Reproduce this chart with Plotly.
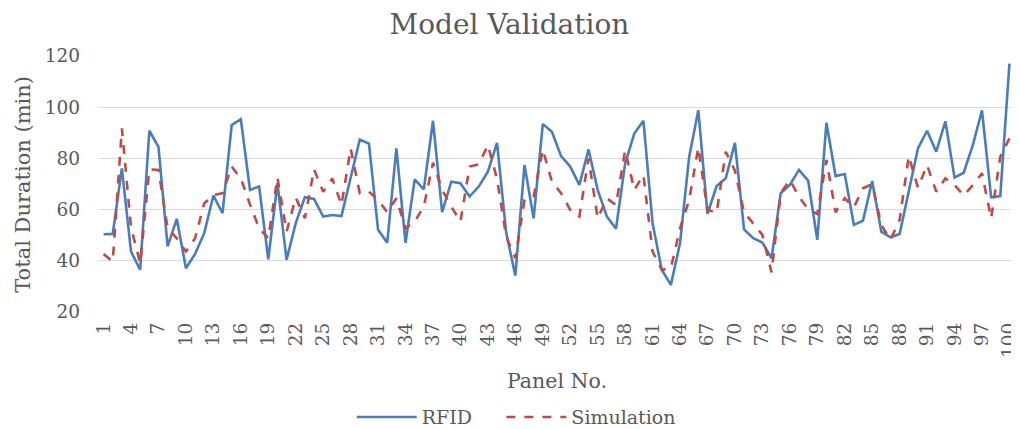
import plotly.graph_objects as go

panels = list(range(1, 101))

rfid = [50.4, 50.5, 76.1, 43.6, 36.5, 90.8, 84.5, 45.6, 56.4, 37.1,
        42.7, 50.8, 65.5, 58.6, 93.0, 95.3, 67.7, 69.0, 40.6, 70.3,
        40.4, 54.7, 64.8, 64.2, 57.3, 57.9, 57.5, 72.5, 87.4, 85.8,
        52.1, 47.1, 83.9, 47.0, 71.8, 67.9, 94.7, 59.0, 70.9, 70.3,
        65.1, 69.0, 74.8, 86.1, 51.0, 34.2, 77.4, 56.6, 93.4, 90.4,
        80.9, 76.8, 69.6, 83.5, 67.7, 57.3, 52.5, 78.0, 89.7, 94.7,
        54.7, 36.5, 30.6, 46.9, 80.6, 98.8, 58.3, 69.2, 72.2, 86.1,
        52.3, 48.8, 47.1, 41.0, 66.4, 69.6, 75.5, 71.3, 48.2, 93.9,
        73.1, 73.9, 54.0, 55.7, 71.2, 51.4, 49.2, 50.5, 67.0, 83.9,
        90.8, 82.6, 94.5, 72.5, 74.4, 85.2, 98.8, 64.8, 65.3, 117.0]

simulation = [42.7, 39.7, 91.7, 53.0, 39.1, 75.7, 75.5, 52.7, 48.8, 43.6,
              48.8, 62.5, 65.7, 66.4, 76.8, 72.2, 62.0, 52.7, 48.8, 72.5,
              51.4, 64.7, 56.6, 75.7, 67.0, 72.2, 61.8, 83.9, 66.4, 67.0,
              63.8, 59.0, 64.4, 52.7, 55.3, 61.2, 78.3, 67.7, 61.2, 55.3,
              76.8, 77.7, 85.2, 72.0, 49.5, 41.0, 63.8, 65.1, 83.5, 70.9,
              66.4, 59.9, 57.3, 80.0, 56.6, 64.4, 61.8, 83.2, 67.7, 73.5,
              43.6, 36.5, 37.1, 52.7, 63.8, 84.3, 59.9, 58.8, 82.6, 75.2,
              59.0, 54.7, 50.1, 35.5, 66.4, 71.6, 65.1, 60.1, 58.3, 79.4,
              59.0, 64.4, 60.9, 68.3, 69.9, 54.0, 48.2, 56.0, 80.9, 68.6,
              77.4, 67.0, 72.2, 69.6, 65.5, 69.6, 74.2, 56.6, 80.6, 87.8]

x_ticks = list(range(1, 101, 3))
y_ticks = [20, 40, 60, 80, 100, 120]

FONT = "DejaVu Serif"
GRAY = "#595959"
GRID = "#d9d9d9"

fig = go.Figure()
fig.add_trace(go.Scatter(x=panels, y=rfid, mode="lines", name="RFID",
                         line=dict(color="#4a7ebb", width=2.6), legend="legend"))
fig.add_trace(go.Scatter(x=panels, y=simulation, mode="lines", name="Simulation",
                         line=dict(color="#be4b48", width=2.6, dash="dash"),
                         legend="legend2"))

legend_common = dict(orientation="h", xref="container", yref="container",
                     xanchor="left", y=0.028, yanchor="middle",
                     font=dict(family=FONT, size=19, color=GRAY), itemwidth=60,
                     bgcolor="rgba(0,0,0,0)")

# page body adds an 8px margin, so the figure is sized 1011x421
fig.update_layout(
    width=1011, height=421,
    margin=dict(l=91, r=5, t=48, b=117, autoexpand=False),
    paper_bgcolor="white", plot_bgcolor="white",
    font=dict(family=FONT, color=GRAY, size=18),
    title=dict(text="Model Validation", x=0.496, xanchor="center",
               xref="container", yref="container", y=0.962, yanchor="middle",
               font=dict(family=FONT, size=28, color=GRAY)),
    xaxis=dict(range=[0.5, 100.5], tickmode="array", tickvals=x_ticks,
               ticktext=[str(t) for t in x_ticks], tickangle=-90,
               showgrid=False, zeroline=False, showline=False,
               ticklabelstandoff=6, ticklabeloverflow="allow",
               tickfont=dict(family=FONT, size=18.5, color=GRAY), ticks=""),
    yaxis=dict(range=[20, 120], tickmode="array", tickvals=y_ticks,
               showgrid=True, gridcolor=GRID, gridwidth=1.3, zeroline=False,
               showline=False, ticks="", ticklabelstandoff=18,
               tickfont=dict(family=FONT, size=18.5, color=GRAY)),
    legend=dict(x=0.340, **legend_common),
    legend2=dict(x=0.488, **legend_common),
    showlegend=True,
)

fig.add_annotation(text="Panel No.", xref="paper", yref="paper", x=0.5, y=-0.268,
                   showarrow=False, xanchor="center", yanchor="middle",
                   font=dict(family=FONT, size=20.5, color=GRAY))
fig.add_annotation(text="Total Duration (min)", xref="paper", yref="paper",
                   x=-0.0833, y=0.5, textangle=-90, showarrow=False,
                   xanchor="center", yanchor="middle",
                   font=dict(family=FONT, size=21, color=GRAY))

fig.write_html("out.html")
